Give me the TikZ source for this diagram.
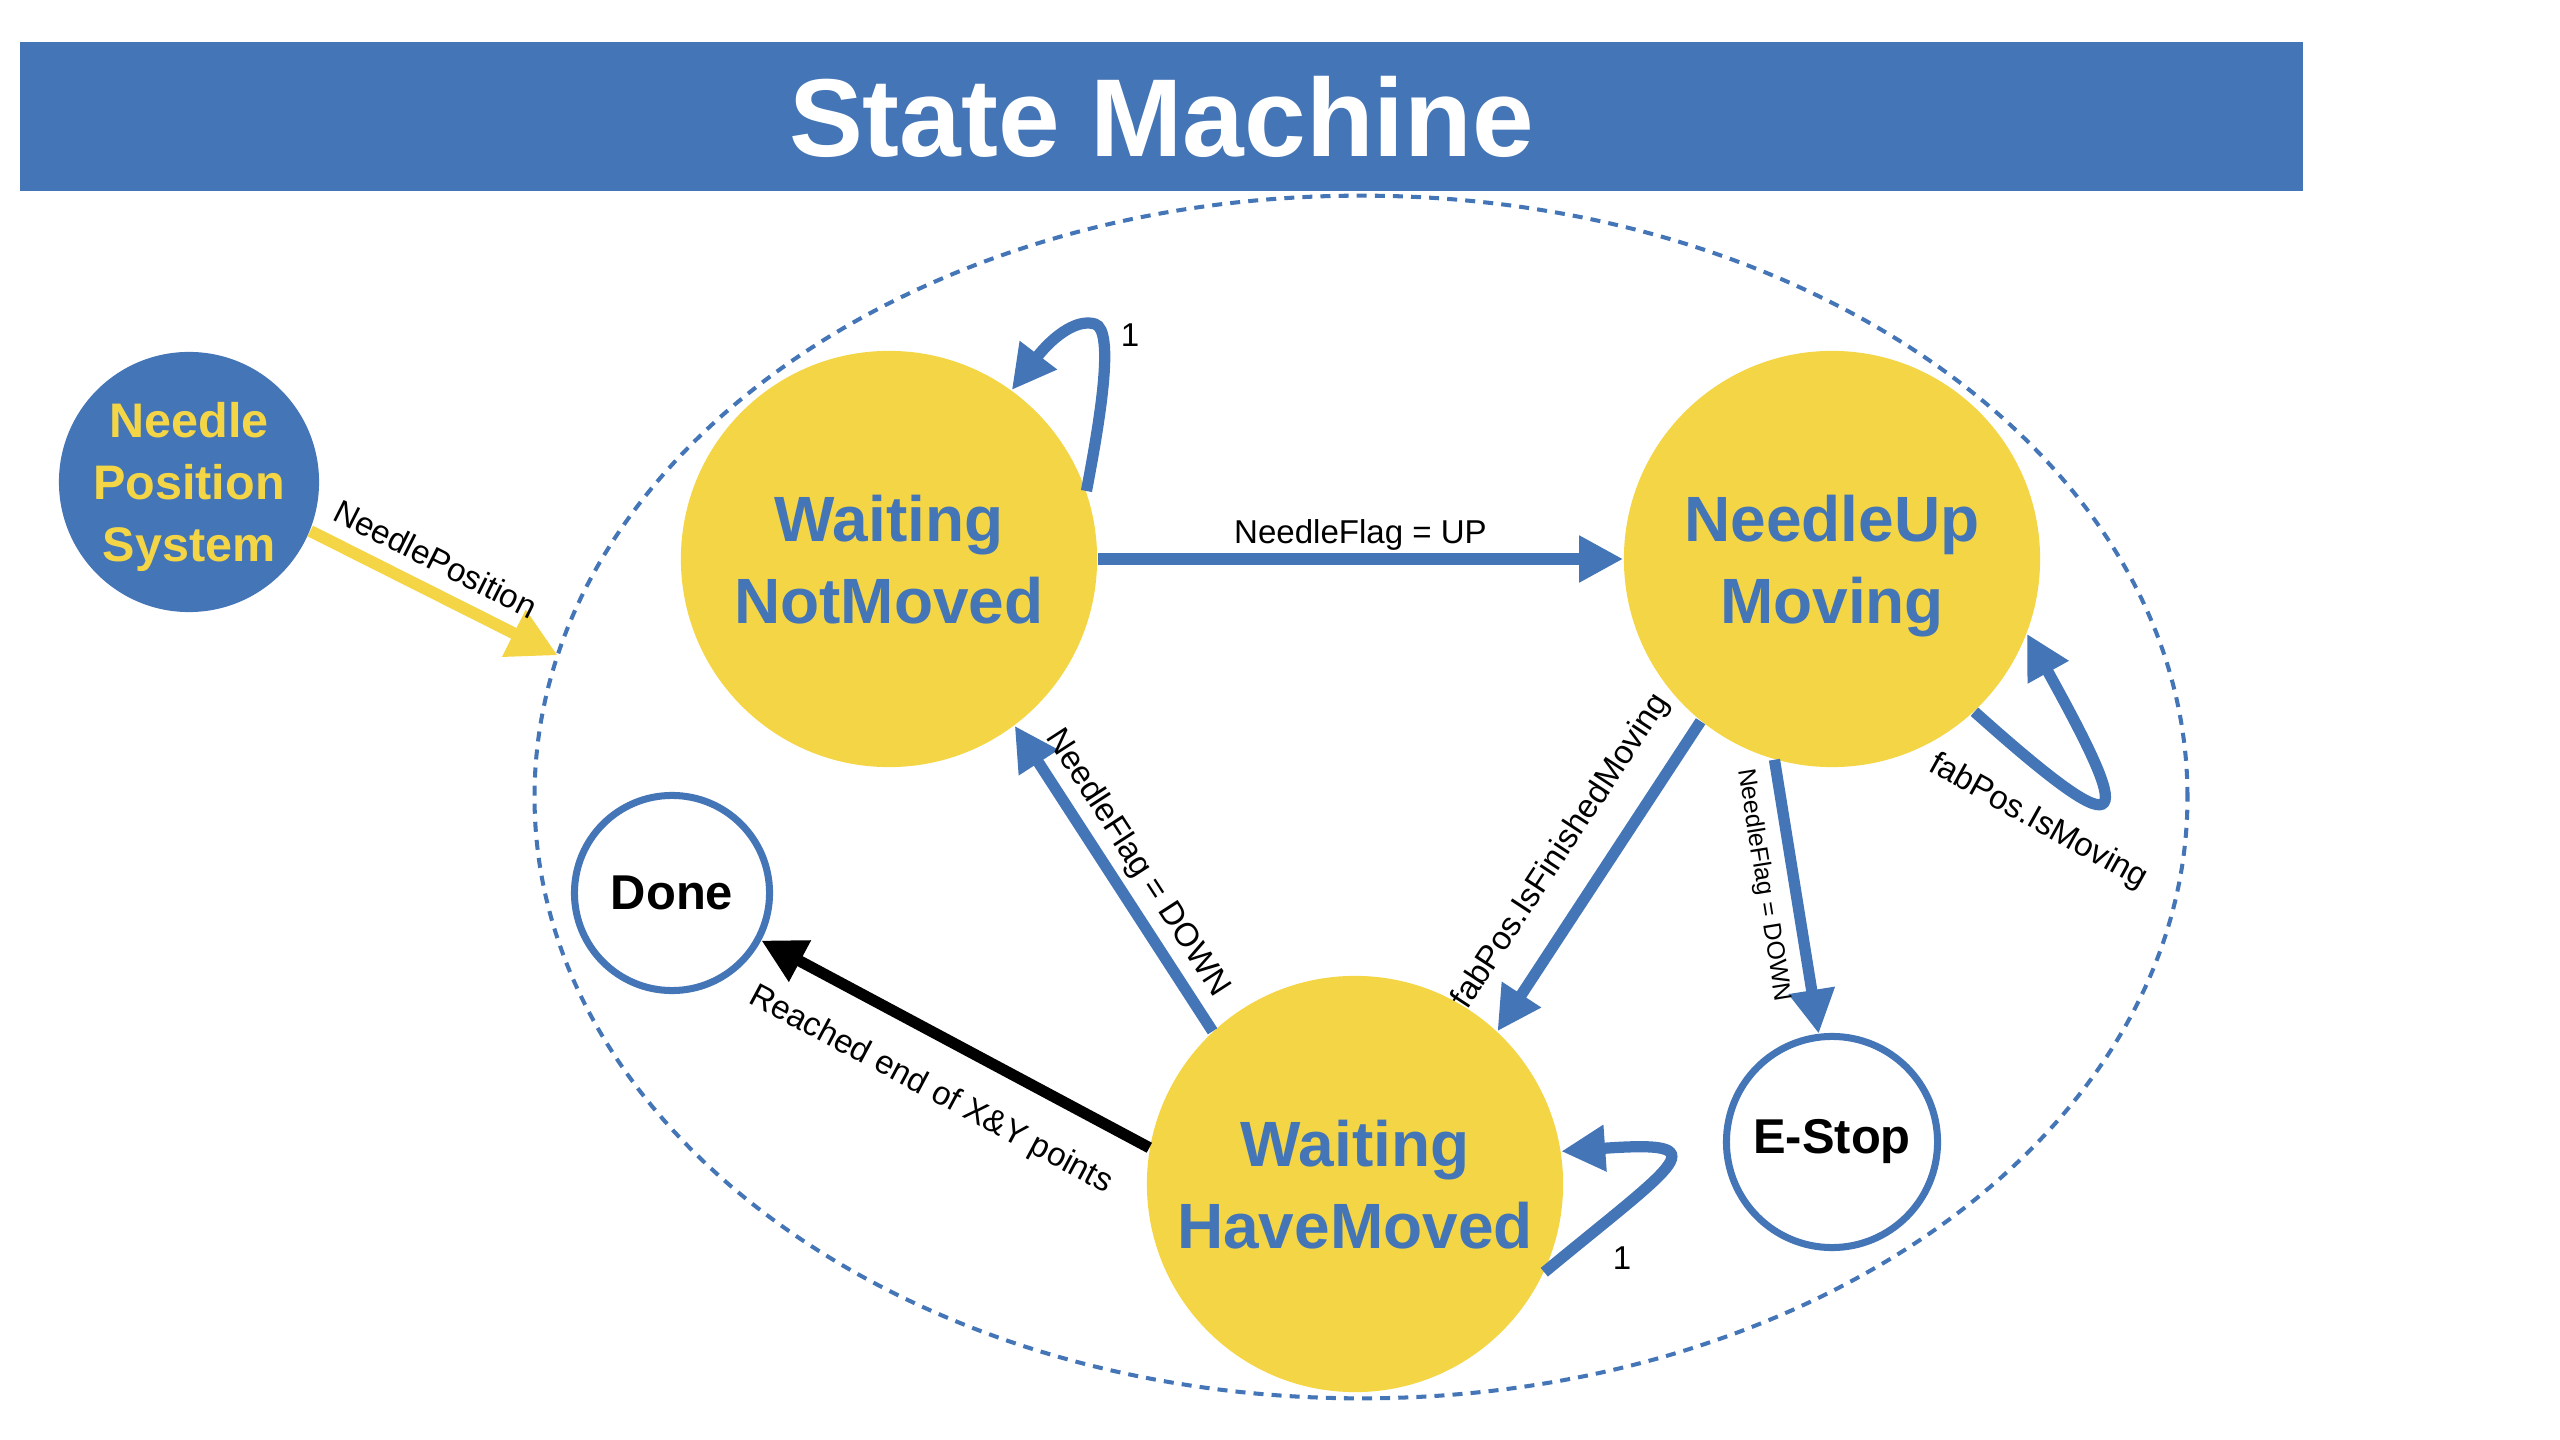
\documentclass[tikz,border=0pt]{standalone}
\usepackage{fontspec}
\setmainfont{Liberation Sans}
\usetikzlibrary{arrows.meta,shapes.geometric}
\definecolor{smblue}{RGB}{68,117,183}
\definecolor{smyellow}{RGB}{243,213,70}
\begin{document}
\begin{tikzpicture}[x=0.01cm,y=-0.01cm,
  state/.style={circle, fill=smyellow, text=smblue, font=\fontsize{18.2}{23.3}\selectfont\bfseries, align=center, minimum size=4.16cm, inner sep=0pt, text depth=0pt},
  endstate/.style={circle, draw=smblue, line width=2pt, fill=white, text=black, font=\fontsize{13.9}{16}\selectfont\bfseries, inner sep=0pt},
  conn/.style={line width=3.2pt, color=smblue, -{Triangle[length=12.5pt,width=12.5pt]}},
  lbl/.style={font=\fontsize{9.4}{11}\selectfont, text=black, sloped, inner sep=2.5pt},
  plainlbl/.style={font=\fontsize{9.4}{11}\selectfont, text=black, inner sep=0pt},
]
\useasboundingbox (0,0) rectangle (2560,1440);

% title bar
\node[fill=smblue, minimum width=22.81cm, minimum height=1.49cm, inner sep=0pt, text=white,
      font=\fontsize{31.5}{36}\selectfont\bfseries] (title) at (1161.5,116.5) {State Machine};

% states
\node[circle, fill=smblue, text=smyellow, minimum size=2.6cm, inner sep=0pt, align=center,
      font=\fontsize{13.8}{17.6}\selectfont\bfseries, text depth=0pt] (NPS) at (189,482) {Needle\\Position\\System};
\node[state] (WNM) at (889,559) {Waiting\\NotMoved};
\node[state] (NUM) at (1832,559) {NeedleUp\\Moving};
\node[state] (WHM) at (1355,1184) {Waiting\\HaveMoved};
\node[endstate, minimum size=1.95cm] (Done) at (672,893) {Done};
\node[endstate, minimum size=2.11cm] (EStop) at (1832,1142) {E-Stop};

% system boundary
\node[ellipse, draw=smblue, line width=1.15pt, dash pattern=on 2.85pt off 2.3pt,
      minimum width=16.52cm, minimum height=12.02cm, inner sep=0pt, outer sep=0pt] (ell) at (1361,797) {};

% input arrow
\draw[line width=3.4pt, color=smyellow, -{Triangle[length=14pt,width=14pt]}]
  (NPS.-22) -- node[lbl, above, outer sep=3pt, pos=0.45] (lNP) {NeedlePosition} (ell.170.9);

% transitions
\draw[conn] (WNM.east) -- node[lbl, above, outer sep=0pt] (lUP) {NeedleFlag = UP} (NUM.west);
\draw[conn] (WHM.133) -- node[lbl, above, outer sep=1pt] (lDN1) {NeedleFlag = DOWN} (WNM.-53);
\draw[conn] (NUM.231) -- node[lbl, above, outer sep=6pt] (lFin) {fabPos.IsFinishedMoving} (WHM.47);
\draw[conn] (NUM.-106) -- node[lbl, below, outer sep=3pt, pos=0.44, font=\fontsize{7.1}{8.5}\selectfont] (lDN2) {NeedleFlag = DOWN} (EStop.97);
\draw[conn, color=black] (WHM.170.6) -- node[lbl, below, outer sep=8pt] (lReach) {Reached end of X\&Y points} (Done.-28);

% self loops
\draw[conn] (WNM.19) .. controls (1100,420) and (1115,330) .. (1095,324)
                     .. controls (1075,318) and (1050,340) .. (WNM.54);
\node[plainlbl] (one1) at (1130,335) {1};
\draw[conn] (WHM.-25) .. controls (1680,1160) and (1720,1140) .. (WHM.9);
\node[plainlbl] (one2) at (1622,1258) {1};
\draw[conn] (NUM.-47) .. controls (2140,860) and (2130,820) .. (NUM.-21);
\node[plainlbl, rotate=-29] (lMove) at (2038,822) {fabPos.IsMoving};
\end{tikzpicture}
\end{document}
